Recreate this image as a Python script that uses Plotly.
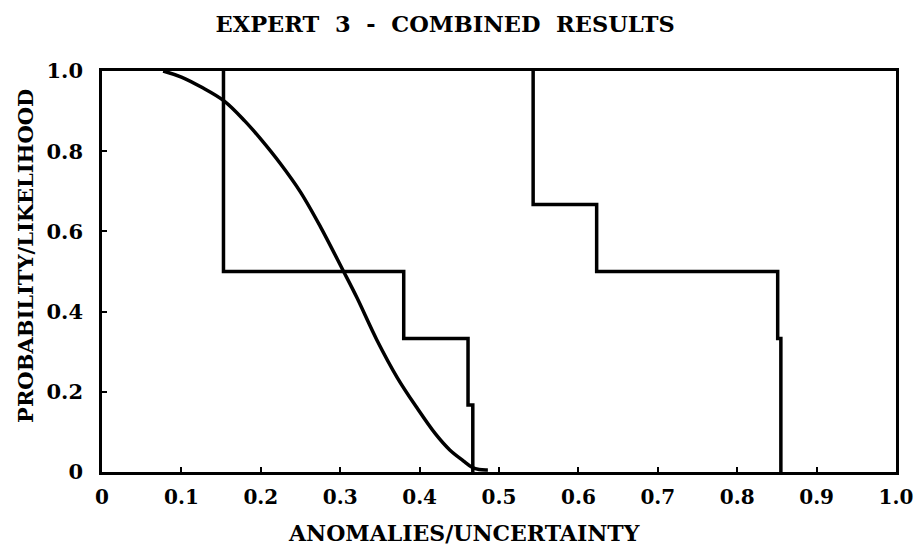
import plotly.graph_objects as go

# Step function 1 (breakpoints / levels, drawn with 'vh' shape)
step1_x = [0.153, 0.380, 0.461, 0.467, 0.467]
step1_y = [1.0, 0.5, 0.333, 0.167, 0.0]

# Step function 2
step2_x = [0.543, 0.623, 0.851, 0.855, 0.855]
step2_y = [1.0, 0.667, 0.5, 0.333, 0.0]

# Smooth curve
curve_x = [0.077, 0.100, 0.125, 0.154, 0.180, 0.200, 0.225, 0.250, 0.275, 0.303,
           0.321, 0.346, 0.372, 0.396, 0.420, 0.438, 0.455, 0.466, 0.475, 0.486]
curve_y = [1.000, 0.985, 0.960, 0.925, 0.875, 0.830, 0.768, 0.698, 0.612, 0.505,
           0.435, 0.330, 0.235, 0.162, 0.095, 0.055, 0.028, 0.012, 0.006, 0.005]

x_ticks = [0, 0.1, 0.2, 0.3, 0.4, 0.5, 0.6, 0.7, 0.8, 0.9, 1.0]
x_ticktext = ["0", "0.1", "0.2", "0.3", "0.4", "0.5", "0.6", "0.7", "0.8", "0.9", "1.0"]
y_ticks = [0, 0.2, 0.4, 0.6, 0.8, 1.0]
y_ticktext = ["0", "0.2", "0.4", "0.6", "0.8", "1.0"]

title_text = "EXPERT\u00a0\u00a03\u00a0\u00a0-\u00a0\u00a0COMBINED\u00a0\u00a0RESULTS"
x_title = "ANOMALIES/UNCERTAINTY"
y_title = "PROBABILITY/LIKELIHOOD"

FONT = "DejaVu Serif"

fig = go.Figure()
fig.add_trace(go.Scatter(x=step1_x, y=step1_y, mode="lines", line=dict(color="black", width=3.5, shape="vh"),
                         cliponaxis=False, showlegend=False))
fig.add_trace(go.Scatter(x=step2_x, y=step2_y, mode="lines", line=dict(color="black", width=3.5, shape="vh"),
                         cliponaxis=False, showlegend=False))
fig.add_trace(go.Scatter(x=curve_x, y=curve_y, mode="lines", line=dict(color="black", width=3.5, shape="spline"),
                         cliponaxis=False, showlegend=False))

fig.update_layout(
    width=916, height=546,
    paper_bgcolor="white", plot_bgcolor="white",
    margin=dict(l=102, r=20, t=71, b=74, autoexpand=False),
    title=dict(text=title_text,
               x=0.486, xanchor="center", y=0.956, yanchor="middle",
               font=dict(family=FONT, size=22.5, color="black", weight="bold")),
    font=dict(family=FONT, color="black"),
    annotations=[
        dict(text=x_title, xref="paper", yref="paper", x=0.456, y=-0.152,
             xanchor="center", yanchor="middle", showarrow=False,
             font=dict(family=FONT, size=22, color="black", weight="bold")),
        dict(text=y_title, xref="paper", yref="paper", x=-0.0957, y=0.539,
             xanchor="center", yanchor="middle", showarrow=False, textangle=-90,
             font=dict(family=FONT, size=21, color="black", weight="bold")),
    ],
)
fig.update_xaxes(
    range=[0, 1], tickvals=x_ticks, ticktext=x_ticktext, automargin=False,
    showgrid=False, zeroline=False, showline=True, linecolor="black", linewidth=2.5, mirror=True,
    ticks="inside", ticklen=5, tickwidth=2, tickcolor="black",
    tickfont=dict(family=FONT, size=20, color="black", weight="bold"),
    ticklabelstandoff=5,
)
fig.update_yaxes(
    range=[0, 1], tickvals=y_ticks, ticktext=y_ticktext, automargin=False,
    showgrid=False, zeroline=False, showline=True, linecolor="black", linewidth=2.5, mirror=True,
    ticks="inside", ticklen=5, tickwidth=2, tickcolor="black",
    tickfont=dict(family=FONT, size=21, color="black", weight="bold"),
    ticklabelstandoff=12,
)

fig.write_html("out.html", config={"displayModeBar": False},
               post_script="document.body.style.margin='0';document.body.style.overflow='hidden';")
